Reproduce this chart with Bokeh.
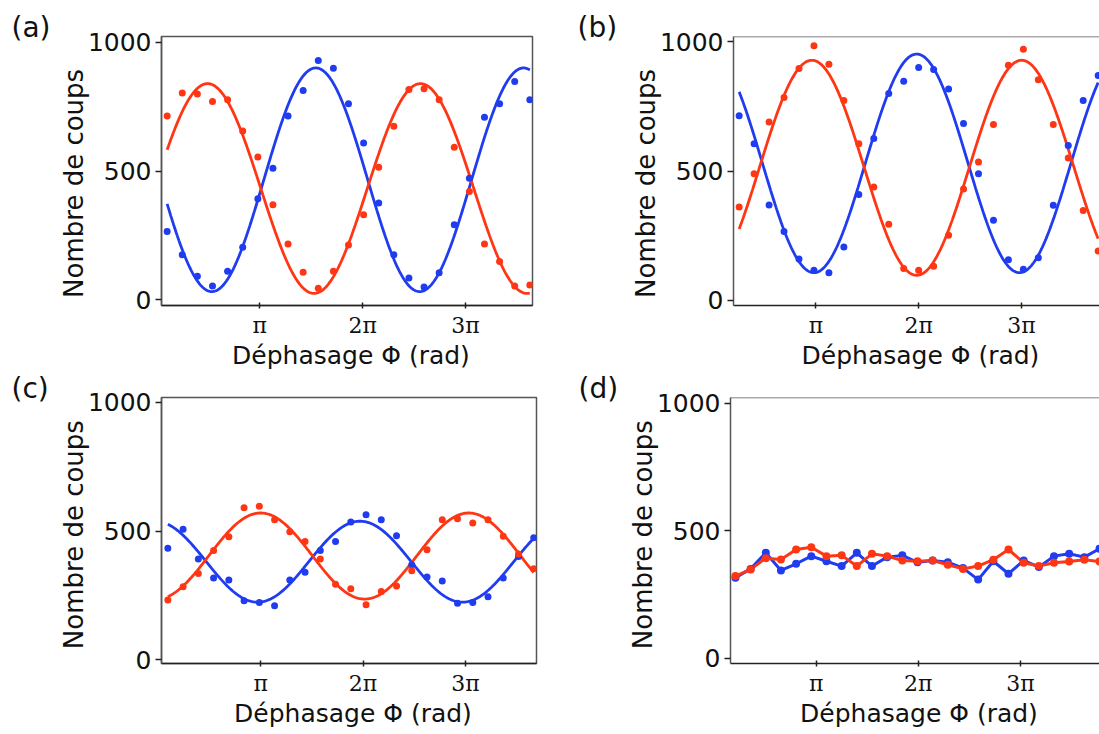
import numpy as np
from bokeh.plotting import figure
from bokeh.layouts import column, row
from bokeh.models import FixedTicker, Range1d, Title, Span
from bokeh.embed import file_html
from bokeh.resources import INLINE

# ---------------- data (phase in units of pi, counts) ----------------
x_ticks = [1, 2, 3]
x_tick_labels = {1: "π", 2: "2π", 3: "3π"}
y_ticks = [0, 500, 1000]

# phase grid of each panel (first, last), 25 equally spaced settings
phase_span_a = (0.099, 3.625)
phase_span_b = (0.253, 3.745)
phase_span_c = (0.095, 3.665)
phase_span_d = (0.210, 3.774)

blue_a = [265, 175, 92, 54, 111, 204, 392, 511, 713, 812, 929, 899, 761,
          609, 376, 175, 85, 50, 105, 291, 472, 709, 761, 847, 777]
red_a = [713, 803, 799, 770, 777, 655, 554, 369, 217, 107, 45, 111, 213,
         330, 515, 674, 816, 819, 777, 592, 420, 217, 149, 54, 58]

blue_b = [714, 606, 369, 266, 160, 116, 107, 206, 410, 626, 800, 848, 901,
          893, 818, 684, 490, 310, 157, 120, 165, 368, 599, 773, 870]
red_b = [361, 490, 690, 785, 897, 985, 914, 773, 606, 439, 294, 123, 116,
         132, 252, 431, 535, 680, 910, 972, 854, 680, 551, 348, 191]

blue_c = [433, 507, 391, 318, 310, 229, 223, 210, 310, 340, 424, 459, 535,
          563, 544, 482, 369, 322, 306, 220, 223, 245, 318, 401, 474]
red_c = [232, 284, 335, 424, 478, 590, 596, 544, 497, 459, 391, 293, 276,
         214, 265, 287, 346, 427, 544, 548, 531, 544, 480, 411, 354]

blue_d = [315, 350, 413, 344, 370, 400, 380, 361, 413, 361, 396, 403, 376,
          383, 376, 353, 308, 380, 331, 383, 357, 400, 409, 396, 429]
red_d = [322, 348, 392, 387, 426, 435, 400, 403, 361, 409, 400, 383, 380,
         383, 366, 350, 361, 386, 426, 374, 361, 374, 379, 386, 379]

# sinusoidal fits: (offset, amplitude, position of a maximum [pi], angular factor)
fit_blue_a = (466, 434, 1.544, 0.99)
fit_red_a = (432, 407, 0.492, 0.966)
fit_blue_b = (530, 423, 1.98, 1.0)
fit_red_b = (513, 416, 0.96, 0.98)
fit_blue_c = (381, 157, 1.97, 1.0)
fit_red_c = (403, 167, 1.00, 0.985)

BLUE = "#1f3cf0"
RED = "#ff3614"
FONT = "DejaVu Sans"
NB = "\u00a0"


def make_panel(letter, letter_dx, span, blue, red, fits, xr, yr, fw, fh,
               L, R, T, B, boxed, connected, ylab_pad):
    p = figure(width=L + fw + R, height=T + fh + B,
               min_border_left=L, min_border_right=R,
               min_border_top=T, min_border_bottom=B,
               x_range=Range1d(*xr), y_range=Range1d(*yr),
               output_backend="svg", toolbar_location=None,
               background_fill_color="white", border_fill_color="white")
    p.xgrid.visible = False
    p.ygrid.visible = False
    if boxed:
        p.outline_line_color = "#555555"
        p.outline_line_width = 1.5
        p.outline_line_alpha = 1.0
    else:
        p.outline_line_color = None
        p.add_layout(Span(location=yr[1], dimension="width",
                          line_color="#555555", line_width=1.5))

    xa = p.xaxis[0]
    xa.ticker = FixedTicker(ticks=x_ticks)
    xa.major_label_overrides = x_tick_labels
    xa.major_label_text_font = "DejaVu Serif"
    xa.major_label_text_font_size = "22px"
    xa.major_label_text_color = "#111111"
    xa.major_label_standoff = 4
    xa.major_tick_in = 3
    xa.major_tick_out = 3
    xa.minor_tick_line_color = None
    xa.axis_line_color = "#222222"
    xa.axis_line_width = 1.6
    xa.major_tick_line_color = "#222222"
    xa.major_tick_line_width = 1.5
    xa.axis_label = NB + "Déphasage Φ (rad)"
    xa.axis_label_text_font = FONT
    xa.axis_label_text_font_size = "25px"
    xa.axis_label_text_font_style = "normal"
    xa.axis_label_text_color = "#111111"
    xa.axis_label_standoff = 0

    ya = p.yaxis[0]
    ya.ticker = FixedTicker(ticks=y_ticks)
    ya.major_label_text_font = FONT
    ya.major_label_text_font_size = "25px"
    ya.major_label_text_color = "#111111"
    ya.major_label_standoff = 4
    ya.major_tick_in = 0
    ya.major_tick_out = 6
    ya.minor_tick_line_color = None
    ya.axis_line_color = "#555555"
    ya.axis_line_width = 1.5
    ya.major_tick_line_color = "#222222"
    ya.major_tick_line_width = 1.5
    ya.axis_label = "Nombre de coups" + NB * ylab_pad
    ya.axis_label_text_font = FONT
    ya.axis_label_text_font_size = "26px"
    ya.axis_label_text_font_style = "normal"
    ya.axis_label_text_color = "#111111"
    ya.axis_label_standoff = -4

    x = np.linspace(span[0], span[1], len(blue))
    if connected:
        p.line(x, blue, line_color=BLUE, line_width=3)
        p.line(x, red, line_color=RED, line_width=3)
        p.scatter(x, blue, size=8, fill_color=BLUE, line_color=None)
        p.scatter(x, red, size=8, fill_color=RED, line_color=None)
    else:
        xs = np.linspace(span[0], span[1], 400)
        for f, col in zip(fits, (BLUE, RED)):
            off, amp, pk, k = f
            p.line(xs, off + amp * np.cos(k * np.pi * (xs - pk)),
                   line_color=col, line_width=2.8)
        p.scatter(x, blue, size=7, fill_color=BLUE, line_color=None)
        p.scatter(x, red, size=7, fill_color=RED, line_color=None)

    p.add_layout(Title(text=letter, align="left", offset=letter_dx,
                       standoff=-14, text_font=FONT, text_font_size="28px",
                       text_font_style="normal", text_color="#111111"),
                 "above")
    return p


# top row: frames y 36..305 ; bottom row: frames from y 397
pa = make_panel("(a)", -150, phase_span_a, blue_a, red_a, (fit_blue_a, fit_red_a),
                (0.044, 3.651), (-22, 1022), 371, 269, 161, 38, 36, 67, True, False, 3)
pb = make_panel("(b)", -156, phase_span_b, blue_b, red_b, (fit_blue_b, fit_red_b),
                (0.198, 3.758), (-20, 1021), 366, 269, 163, 0, 36, 67, False, False, 3)
pc = make_panel("(c)", -150, phase_span_c, blue_c, red_c, (fit_blue_c, fit_red_c),
                (0.033, 3.692), (-14, 1018), 375, 270, 161, 34, 25, 66, True, False, 1)
pd = make_panel("(d)", -152, phase_span_d, blue_d, red_d, None,
                (0.1615, 3.774), (-21, 1022), 369, 266, 160, 0, 25, 70, False, True, 1)

layout = column(row(pa, pb), row(pc, pd))
open("out.html", "w").write(file_html(layout, INLINE))
